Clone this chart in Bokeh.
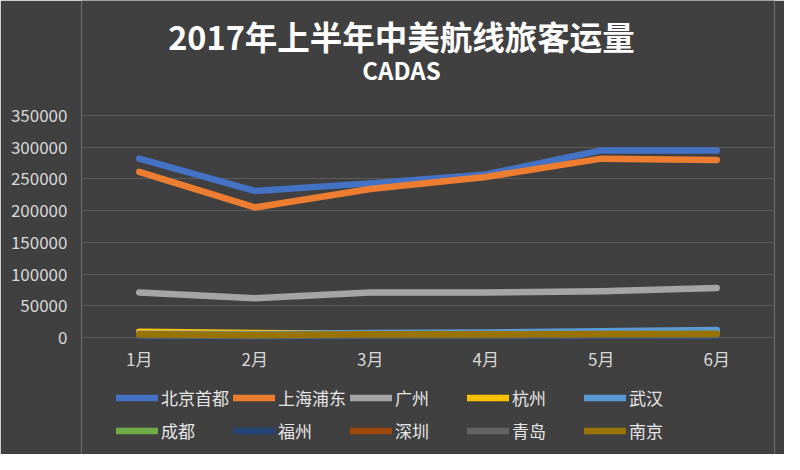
from bokeh.plotting import figure
from bokeh.models import (FactorRange, Range1d, Legend, LegendItem, Label,
                          FixedTicker, NumeralTickFormatter)
from bokeh.embed import file_html
from bokeh.resources import INLINE

months = ["1月", "2月", "3月", "4月", "5月", "6月"]
series_names = ["北京首都", "上海浦东", "广州", "杭州", "武汉",
                "成都", "福州", "深圳", "青岛", "南京"]
beijing = [282000, 231000, 243000, 257000, 295000, 295000]
shanghai = [261000, 205000, 234000, 253000, 282000, 280000]
guangzhou = [71000, 62000, 71000, 71000, 73000, 78000]
hangzhou = [9000, 7000, 6000, 6000, 6000, 6000]
wuhan = [6000, 5000, 7000, 8000, 10000, 12000]
chengdu = [3000, 2500, 3000, 3000, 3500, 4000]
fuzhou = [2000, 1500, 2000, 2000, 2500, 2500]
shenzhen = [4000, 3000, 4000, 4000, 4500, 5000]
qingdao = [3000, 2500, 3000, 3000, 3500, 3500]
nanjing = [5000, 4000, 5000, 5000, 5500, 6000]
y_ticks = [0, 50000, 100000, 150000, 200000, 250000, 300000, 350000]

series_values = [beijing, shanghai, guangzhou, hangzhou, wuhan,
                 chengdu, fuzhou, shenzhen, qingdao, nanjing]
colors = ["#4472C4", "#ED7D31", "#A5A5A5", "#FFC000", "#5B9BD5",
          "#70AD47", "#264478", "#9E480E", "#636363", "#997300"]

FONT = "Noto Sans CJK SC"
BG = "#404040"

# layout (pixels): the frame fills the figure height; the value axis
# 0..350000 occupies the band between PLOT_TOP and PLOT_BOTTOM.
W, H = 784, 454
PLOT_TOP, PLOT_BOTTOM = 115, 337
y_max = max(y_ticks)
per_px = y_max / (PLOT_BOTTOM - PLOT_TOP)
y_start = -(H - PLOT_BOTTOM) * per_px
y_end = y_max + PLOT_TOP * per_px

p = figure(width=W, height=H, x_range=FactorRange(*months, range_padding=0),
           y_range=Range1d(y_start, y_end), output_backend="svg",
           toolbar_location=None, min_border_left=81, min_border_right=10,
           min_border_top=0, min_border_bottom=0)
p.background_fill_color = BG
p.border_fill_color = BG
p.outline_line_color = None

renderers = []
for name, vals, col in zip(series_names, series_values, colors):
    r = p.line(months, vals, line_color=col, line_width=6.5,
               line_cap="round", line_join="round")
    renderers.append(r)

# axes
p.yaxis.ticker = FixedTicker(ticks=y_ticks)
p.yaxis.formatter = NumeralTickFormatter(format="0")
for ax in (p.xaxis[0], p.yaxis[0]):
    ax.axis_line_color = None
    ax.major_tick_line_color = None
    ax.minor_tick_line_color = None
    ax.major_label_text_color = "#d9d9d9"
    ax.major_label_text_font = FONT
    ax.major_label_text_font_size = "17px"
p.yaxis.major_label_standoff = 8
p.xaxis.fixed_location = 0
p.xaxis.major_label_standoff = 2
p.xgrid.grid_line_color = None
p.ygrid.grid_line_color = "#5c5c5c"
p.ygrid.grid_line_width = 1.2
p.ygrid.ticker = FixedTicker(ticks=y_ticks)

items = [LegendItem(label=n, renderers=[r]) for n, r in zip(series_names, renderers)]
legend = Legend(items=items, orientation="horizontal", ncols=5,
                location=(35, 9), label_text_color="#e6e6e6",
                label_text_font=FONT, label_text_font_size="17px",
                glyph_width=42, glyph_height=29, label_height=29,
                label_width=68, label_standoff=3, spacing=4, padding=0,
                margin=0, background_fill_alpha=0, border_line_alpha=0)
p.add_layout(legend, "center")

main = Label(text="2017年上半年中美航线旅客运量", x=320, y=H - 35,
             x_units="screen", y_units="screen", text_align="center",
             text_baseline="middle", text_color="#ffffff", text_font=FONT,
             text_font_size="32.5px", text_font_style="bold")
sub = Label(text="CADAS", x=320, y=H - 68.5, x_units="screen", y_units="screen",
            text_align="center", text_baseline="middle", text_color="#ffffff",
            text_font=FONT, text_font_size="24px", text_font_style="bold")
p.add_layout(main)
p.add_layout(sub)

open("out.html", "w").write(file_html(p, INLINE))
